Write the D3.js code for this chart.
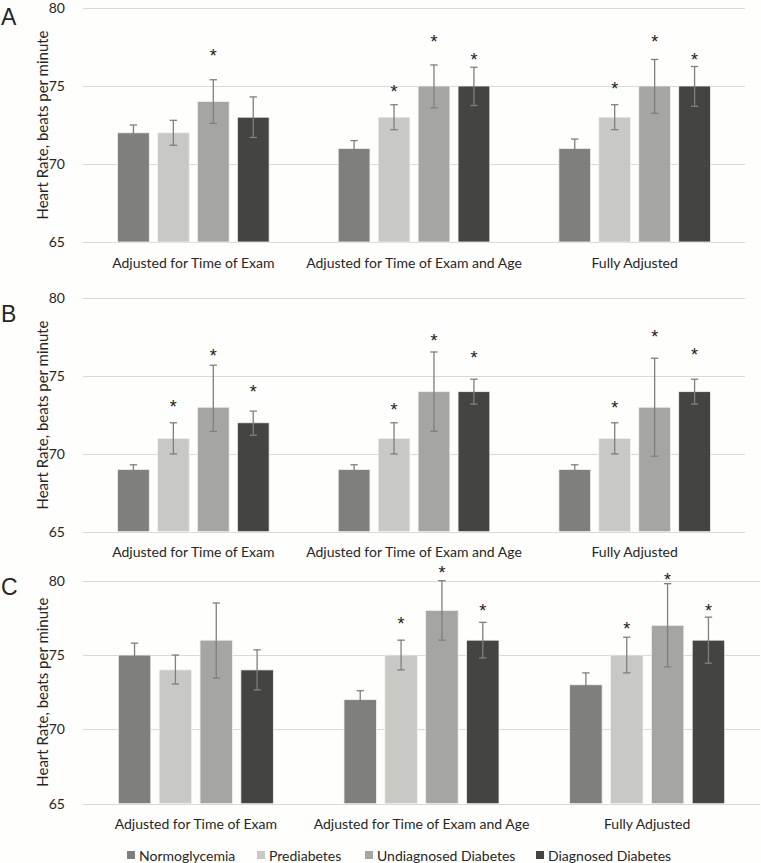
<!DOCTYPE html>
<html>
<head>
<meta charset="utf-8">
<script src="https://cdn.jsdelivr.net/npm/d3@7"></script>
<style>
  html, body { margin: 0; padding: 0; background: #fefefc; }
  svg { display: block; }
  text { font-family: Lato, "Open Sans", sans-serif; fill: #262626; }
</style>
</head>
<body>
<svg id="chart" width="761" height="863"></svg>
<script>
// ---- Data ----
const categories = ["Adjusted for Time of Exam", "Adjusted for Time of Exam and Age", "Fully Adjusted"];
const groups = ["Normoglycemia", "Prediabetes", "Undiagnosed Diabetes", "Diagnosed Diabetes"];
const panelLabels = ["A", "B", "C"];
const yTicks = [65, 70, 75, 80];
const yTitle = "Heart Rate, beats per minute";

// Panel A (rows = categories, columns = groups)
const meansA = [[72, 72, 74, 73], [71, 73, 75, 75], [71, 73, 75, 75]];
const lowerA = [[71.5, 71.2, 72.6, 71.7], [70.45, 72.2, 73.6, 73.75], [70.45, 72.2, 73.25, 73.7]];
const upperA = [[72.5, 72.8, 75.4, 74.3], [71.5, 73.8, 76.35, 76.2], [71.6, 73.8, 76.7, 76.25]];
const starsA = [[null, null, 77.2, null], [null, 74.9, 78.1, 76.95], [null, 75.05, 78.1, 76.9]];

// Panel B
const meansB = [[69, 71, 73, 72], [69, 71, 74, 74], [69, 71, 73, 74]];
const lowerB = [[68.65, 70, 71.45, 71.2], [68.65, 70, 71.45, 73.2], [68.7, 70, 69.85, 73.2]];
const upperB = [[69.3, 72, 75.7, 72.75], [69.3, 72, 76.55, 74.8], [69.3, 72, 76.15, 74.8]];
const starsB = [[null, 73.3, 76.55, 74.25], [null, 73.1, 77.5, 76.4], [null, 73.2, 77.75, 76.6]];

// Panel C
const meansC = [[75, 74, 76, 74], [72, 75, 78, 76], [73, 75, 77, 76]];
const lowerC = [[74.2, 73.05, 73.45, 72.65], [71.4, 74.0, 76.0, 74.8], [72.25, 73.8, 74.2, 74.45]];
const upperC = [[75.8, 75, 78.5, 75.35], [72.6, 76.0, 80.0, 77.2], [73.8, 76.2, 79.8, 77.55]];
const starsC = [[null, null, null, null], [null, 77.35, 80.8, 78.25], [null, 77.05, 80.3, 78.25]];

const colors = ["#7f7f7d", "#c8c9c4", "#a5a6a2", "#444442"];

// ---- Layout ----
const panels = [
  { label: panelLabels[0], means: meansA, lower: lowerA, upper: upperA, stars: starsA, top: 8, bottom: 242, left: 83, right: 745, labelY: 25 },
  { label: panelLabels[1], means: meansB, lower: lowerB, upper: upperB, stars: starsB, top: 298.3, bottom: 531.7, left: 83, right: 745, labelY: 322 },
  { label: panelLabels[2], means: meansC, lower: lowerC, upper: upperC, stars: starsC, top: 580.7, bottom: 803.7, left: 83, right: 760, labelY: 595 }
];

const svg = d3.select("#chart");
svg.append("rect").attr("width", 761).attr("height", 863).attr("fill", "#fefefc");

panels.forEach(p => {
  const g = svg.append("g");
  const y = d3.scaleLinear().domain([65, 80]).range([p.bottom, p.top]);
  const x0 = d3.scaleBand().domain(categories).range([p.left, p.right]).padding(0);
  const bw = x0.bandwidth();
  const x1 = d3.scaleBand().domain(groups).range([bw * 0.1565, bw * 0.8435]).paddingInner(0.205).paddingOuter(0);

  // gridlines
  g.selectAll(".grid").data(yTicks).join("line")
    .attr("x1", p.left).attr("x2", p.right)
    .attr("y1", d => Math.round(y(d)) + 0.5).attr("y2", d => Math.round(y(d)) + 0.5)
    .attr("stroke", "#d9d9d9").attr("stroke-width", 1);

  // y axis tick labels
  const yAxis = d3.axisLeft(y).tickValues(yTicks).tickSize(0).tickPadding(0);
  const ya = g.append("g").attr("transform", `translate(${p.left - 18},0)`).call(yAxis);
  ya.select(".domain").remove();
  ya.selectAll("text").style("font-family", "Lato, 'Open Sans', sans-serif").style("font-size", "14px").attr("fill", "#262626");

  // y title
  g.append("text")
    .attr("transform", `translate(42,${(p.top + p.bottom) / 2}) rotate(-90)`)
    .attr("text-anchor", "middle").attr("dominant-baseline", "central")
    .style("font-size", "15px")
    .text(yTitle);

  // panel letter
  g.append("text").attr("x", 1).attr("y", p.labelY)
    .style("font-family", "'Liberation Sans', Arial, sans-serif")
    .style("font-size", "23px").attr("fill", "#111")
    .text(p.label);

  // bars
  categories.forEach((cat, ci) => {
    const cg = g.append("g").attr("transform", `translate(${x0(cat)},0)`);
    const rows = groups.map((grp, gi) => ({
      grp, gi,
      v: p.means[ci][gi], lo: p.lower[ci][gi], hi: p.upper[ci][gi], star: p.stars[ci][gi]
    }));
    cg.selectAll("rect.bar").data(rows).join("rect")
      .attr("class", "bar")
      .attr("x", d => x1(d.grp))
      .attr("width", x1.bandwidth())
      .attr("y", d => y(d.v))
      .attr("height", d => y(65) - y(d.v))
      .attr("fill", d => colors[d.gi])
      .attr("stroke", "#f2f2ee").attr("stroke-width", 0.8);

    const cx = d => x1(d.grp) + x1.bandwidth() / 2;
    cg.selectAll("line.err").data(rows).join("line")
      .attr("x1", cx).attr("x2", cx)
      .attr("y1", d => y(d.lo)).attr("y2", d => y(d.hi))
      .attr("stroke", "#7f7f7f").attr("stroke-width", 1.3);
    cg.selectAll("line.capt").data(rows).join("line")
      .attr("x1", d => cx(d) - 3.7).attr("x2", d => cx(d) + 3.7)
      .attr("y1", d => y(d.hi)).attr("y2", d => y(d.hi))
      .attr("stroke", "#7f7f7f").attr("stroke-width", 1.3);
    cg.selectAll("line.capb").data(rows).join("line")
      .attr("x1", d => cx(d) - 3.7).attr("x2", d => cx(d) + 3.7)
      .attr("y1", d => y(d.lo)).attr("y2", d => y(d.lo))
      .attr("stroke", "#7f7f7f").attr("stroke-width", 1.3);

    cg.selectAll("text.star").data(rows.filter(d => d.star !== null)).join("text")
      .attr("x", cx)
      .attr("y", d => y(d.star) + 10)
      .attr("text-anchor", "middle")
      .style("font-family", "'Liberation Sans', Arial, sans-serif")
      .style("font-size", "18px").style("fill", "#1a1a1a")
      .text("*");
  });

  // category labels
  g.selectAll(".cat").data(categories).join("text")
    .attr("x", d => x0(d) + bw / 2)
    .attr("y", p.bottom + 20)
    .attr("text-anchor", "middle").attr("dominant-baseline", "central")
    .style("font-size", "14px")
    .text(d => d);
});

// legend
const legendX = [127, 257, 365, 536];
const legend = svg.append("g");
groups.forEach((grp, i) => {
  legend.append("rect").attr("x", legendX[i]).attr("y", 851).attr("width", 8).attr("height", 8).attr("fill", colors[i]);
  legend.append("text").attr("x", legendX[i] + 12).attr("y", 855.5)
    .attr("dominant-baseline", "central").style("font-size", "14px").text(grp);
});
</script>
</body>
</html>
